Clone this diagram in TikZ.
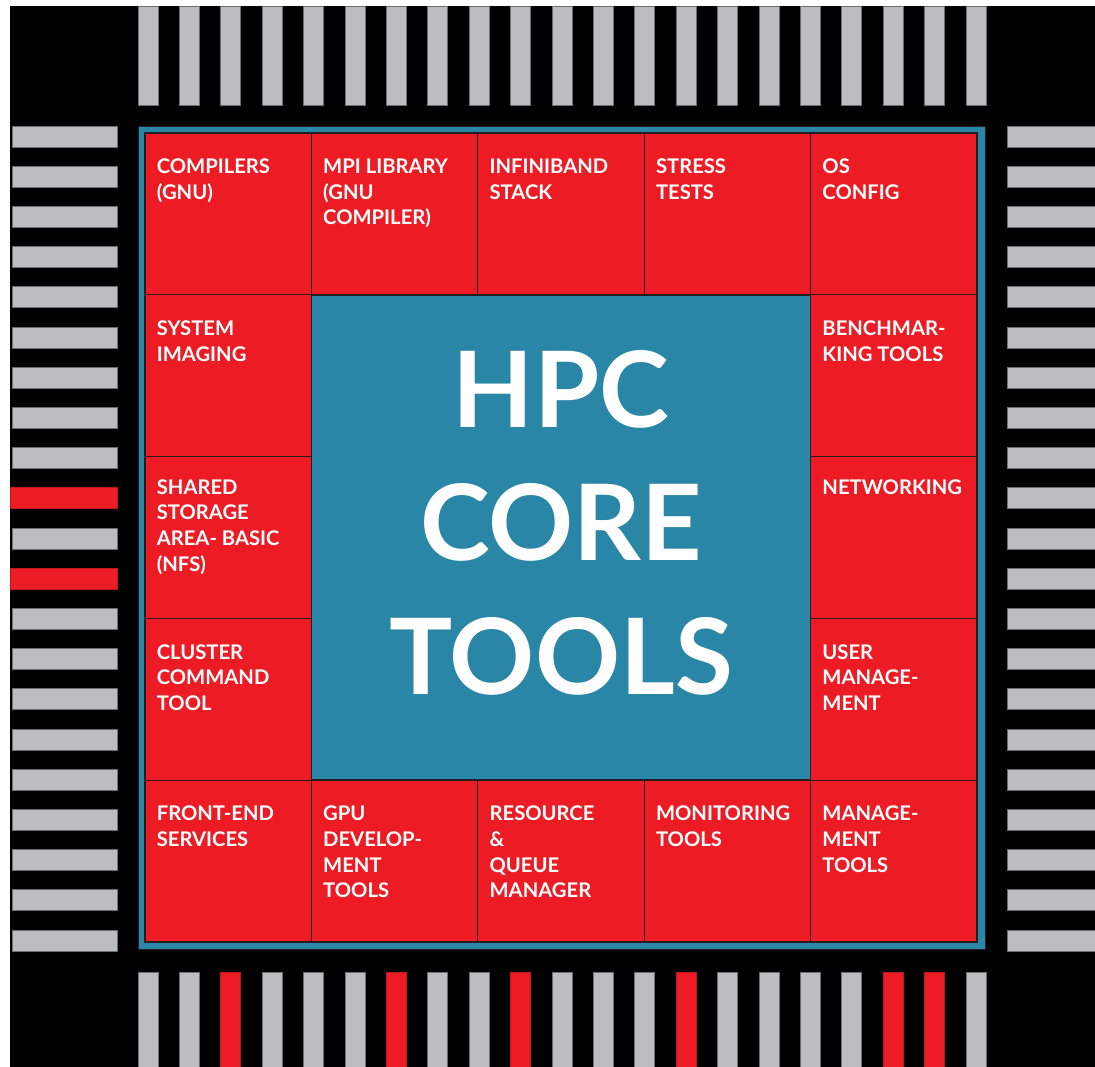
\documentclass[tikz,border=0pt]{standalone}
\usepackage{fontspec}
\setmainfont{Lato}
\usetikzlibrary{positioning}
\definecolor{chipred}{HTML}{ED1C24}
\definecolor{chipteal}{HTML}{2A86A6}
\definecolor{pingray}{HTML}{BCBDC0}
\definecolor{pinline}{HTML}{6D6E71}
\definecolor{gridline}{HTML}{231F20}

\begin{document}
\begin{tikzpicture}[x=0.02cm,y=-0.02cm]
\tikzstyle{cell}=[rectangle, draw=gridline, line width=0.6pt, fill=chipred,
    minimum width=3.328cm, minimum height=3.236cm, inner sep=0]
\tikzstyle{celltext}=[anchor=north west, inner sep=0, text=white, align=left,
    font=\fontsize{11.5}{14.6}\selectfont\bfseries]
\tikzstyle{pin}=[fill=pingray, draw=pinline, line width=0.5pt]
\tikzstyle{redpin}=[fill=chipred, draw=chipred!80!black, line width=0.5pt]

\useasboundingbox (0,0) rectangle (1095,1067);
\fill[white] (0,0) rectangle (1095,1067);
\fill[black] (10,6) rectangle (1095,1067);

% pins on all four sides
\foreach \i in {0,...,20} {
  \draw[pin] ({138+41.4*\i},6) rectangle +(20,99);
  \draw[pin] ({138+41.4*\i},972) rectangle +(20,104);
  \draw[pin] (12,{126+40.2*\i}) rectangle +(105,21);
  \draw[pin] (1007,{126+40.2*\i}) rectangle +(95,21);
}
\foreach \i in {2,6,9,13,18,19}
  \draw[redpin] ({138+41.4*\i},972) rectangle +(20,104);
\foreach \i in {9,11}
  \draw[redpin] (10,{126+40.2*\i}) rectangle +(107,21);

% chip body
\node[rectangle, draw=gridline, fill=chipteal, line width=0.6pt, inner sep=0,
    minimum width=16.96cm, minimum height=16.48cm] (chip) at (562,538) {};

    \node[cell] (a1) at (228.2,213.9) {};
    \node[cell] (a2) at (394.6,213.9) {};
    \node[cell] (a3) at (561,213.9) {};
    \node[cell] (a4) at (727.4,213.9) {};
    \node[cell] (a5) at (893.8,213.9) {};

    \node[cell] (b1) at (228.2,375.7) {};
    \node[cell] (b5) at (893.8,375.7) {};
    \node[cell] (c1) at (228.2,537.5) {};
    \node[cell] (c5) at (893.8,537.5) {};
    \node[cell] (d1) at (228.2,699.3) {};
    \node[cell] (d5) at (893.8,699.3) {};

    \node[cell] (e1) at (228.2,861.1) {};
    \node[cell] (e2) at (394.6,861.1) {};
    \node[cell] (e3) at (561,861.1) {};
    \node[cell] (e4) at (727.4,861.1) {};
    \node[cell] (e5) at (893.8,861.1) {};

\node[rectangle, draw=gridline, fill=chipteal, line width=0.6pt, inner sep=0,
    minimum width=9.984cm, minimum height=9.7cm] (core) at (561,537.5) {};
\node[inner sep=0, text=white, align=center,
    font=\fontsize{60}{76}\selectfont\bfseries] (title)
    at ([shift={(0,-15)}]core.center) {HPC\\CORE\\TOOLS};

% labels
\node[celltext] (ta1) at ([shift={(12,26)}]a1.north west) {COMPILERS\\(GNU)};
\node[celltext] (ta2) at ([shift={(12,26)}]a2.north west) {MPI LIBRARY\\(GNU\\COMPILER)};
\node[celltext] (ta3) at ([shift={(12,26)}]a3.north west) {INFINIBAND\\STACK};
\node[celltext] (ta4) at ([shift={(12,26)}]a4.north west) {STRESS\\TESTS};
\node[celltext] (ta5) at ([shift={(12,26)}]a5.north west) {OS\\CONFIG};
\node[celltext] (tb1) at ([shift={(12,26)}]b1.north west) {SYSTEM\\IMAGING};
\node[celltext] (tb5) at ([shift={(12,26)}]b5.north west) {BENCHMAR-\\KING TOOLS};
\node[celltext] (tc1) at ([shift={(12,23)}]c1.north west) {SHARED\\STORAGE\\AREA- BASIC\\(NFS)};
\node[celltext] (tc5) at ([shift={(12,23)}]c5.north west) {NETWORKING};
\node[celltext] (td1) at ([shift={(12,26)}]d1.north west) {CLUSTER\\COMMAND\\TOOL};
\node[celltext] (td5) at ([shift={(12,26)}]d5.north west) {USER\\MANAGE-\\MENT};
\node[celltext] (te1) at ([shift={(12,26)}]e1.north west) {FRONT-END\\SERVICES};
\node[celltext] (te2) at ([shift={(12,26)}]e2.north west) {GPU\\DEVELOP-\\MENT\\TOOLS};
\node[celltext] (te3) at ([shift={(12,26)}]e3.north west) {RESOURCE\\\&\\QUEUE\\MANAGER};
\node[celltext] (te4) at ([shift={(12,26)}]e4.north west) {MONITORING\\TOOLS};
\node[celltext] (te5) at ([shift={(12,26)}]e5.north west) {MANAGE-\\MENT\\TOOLS};

\end{tikzpicture}
\end{document}
